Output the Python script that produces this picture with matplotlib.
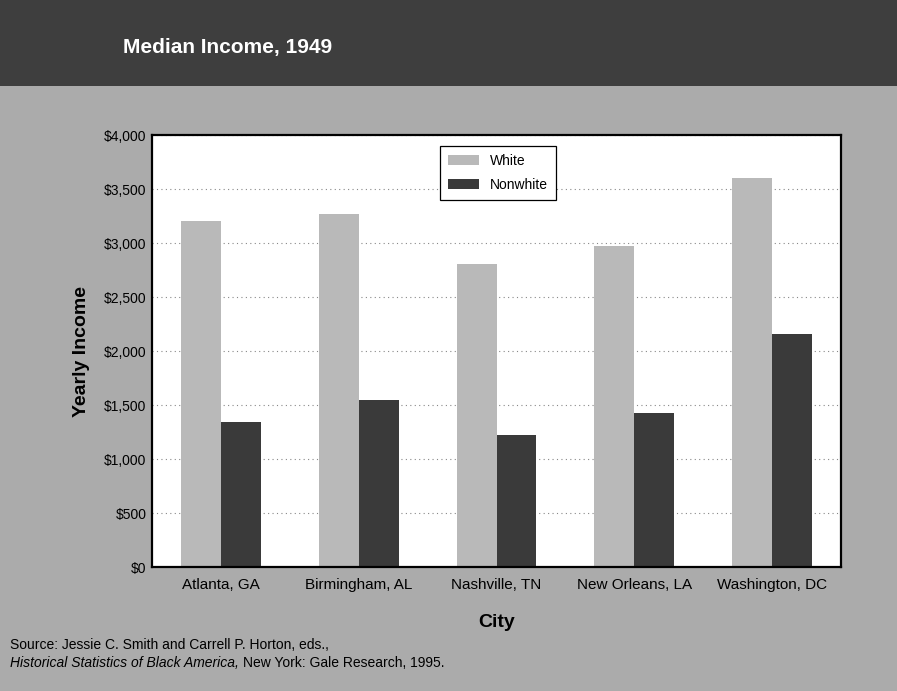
import matplotlib
matplotlib.use("Agg")
import matplotlib.pyplot as plt
from matplotlib.patches import Rectangle
from matplotlib.ticker import FuncFormatter, MultipleLocator

cities = ["Atlanta, GA", "Birmingham, AL", "Nashville, TN", "New Orleans, LA", "Washington, DC"]
white_income = [3200, 3270, 2810, 2970, 3600]
nonwhite_income = [1340, 1550, 1220, 1430, 2160]

plt.rcParams["font.family"] = ["Liberation Sans", "DejaVu Sans"]

fig = plt.figure(figsize=(8.97, 6.91), dpi=100)
fig.patch.set_facecolor("#ababab")

# dark title band across the top
fig.patches.append(Rectangle((0, 1 - 86 / 691), 1, 86 / 691, transform=fig.transFigure,
                             facecolor="#3e3e3e", edgecolor="none", zorder=0))
fig.text(123 / 897, 1 - 47 / 691, "Median Income, 1949", color="white", fontsize=15,
         fontweight="bold", va="center", ha="left")

ax = fig.add_axes([152 / 897, 1 - 567 / 691, (841 - 152) / 897, (567 - 135) / 691])
ax.set_facecolor("white")

x = list(range(len(cities)))
w = 0.29
ax.bar([i - w / 2 for i in x], white_income, width=w, color="#b9b9b9", label="White", zorder=2)
ax.bar([i + w / 2 for i in x], nonwhite_income, width=w, color="#3a3a3a", label="Nonwhite", zorder=2)

ax.set_xlim(-0.5, len(cities) - 0.5)
ax.set_ylim(0, 4000)
ax.yaxis.set_major_locator(MultipleLocator(500))
ax.yaxis.set_major_formatter(FuncFormatter(lambda v, p: f"${v:,.0f}"))
ax.grid(axis="y", linestyle=(0, (1, 3)), color="#888888", linewidth=0.8, zorder=1)

ax.set_xticks(x)
ax.set_xticklabels(cities, fontsize=11)
ax.tick_params(axis="x", length=0, pad=8)
ax.tick_params(axis="y", length=0, pad=4, labelsize=10)

for s in ax.spines.values():
    s.set_linewidth(1.6)
    s.set_color("black")

ax.set_ylabel("Yearly Income", fontsize=14, fontweight="bold", labelpad=10)
ax.set_xlabel("City", fontsize=14, fontweight="bold", labelpad=16)

leg = ax.legend(loc="center", bbox_to_anchor=(0.502, 0.912), fancybox=False,
                framealpha=1, edgecolor="black", fontsize=10, handlelength=2.2,
                borderpad=0.6, labelspacing=0.7)
leg.get_frame().set_linewidth(0.9)

fig.text(10 / 897, 1 - 645 / 691, "Source: Jessie C. Smith and Carrell P. Horton, eds.,",
         fontsize=10, va="center", ha="left")
t = fig.text(10 / 897, 1 - 663 / 691, "Historical Statistics of Black America,",
             fontsize=10, style="italic", va="center", ha="left")
fig.canvas.draw()
bb = t.get_window_extent()
fig.text((bb.x1 + 4) / fig.bbox.width, 1 - 663 / 691, "New York: Gale Research, 1995.",
         fontsize=10, va="center", ha="left")

fig.savefig("out.png", dpi=100, facecolor=fig.get_facecolor())
